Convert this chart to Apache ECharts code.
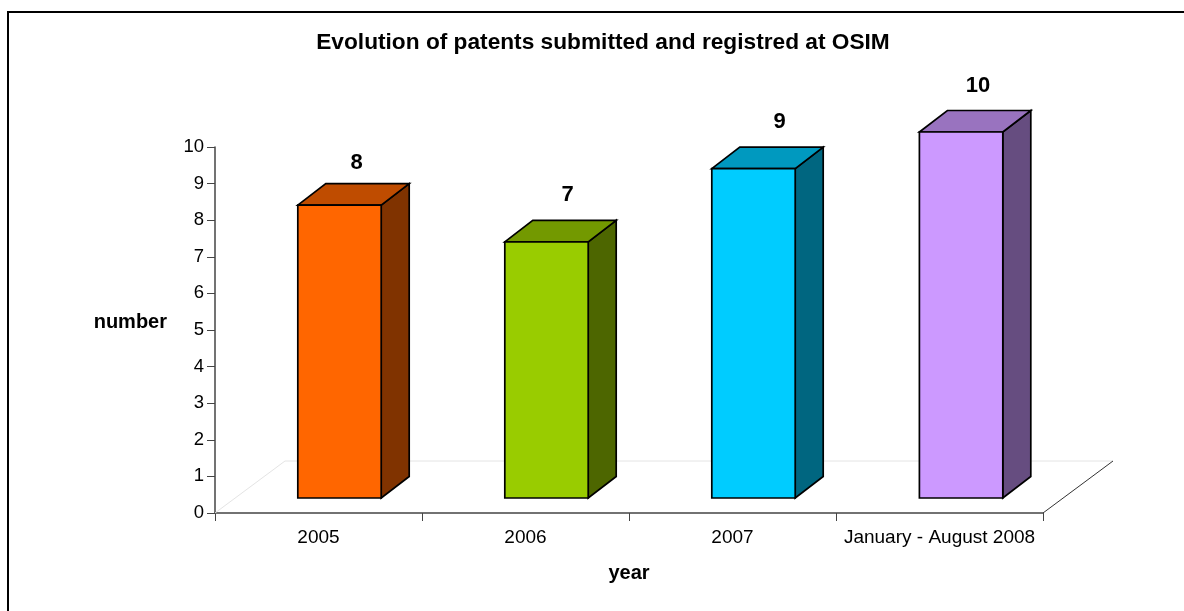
<!DOCTYPE html>
<html><head><meta charset="utf-8">
<style>html,body{margin:0;padding:0;background:#fff}#c{width:1184px;height:611px}</style>
<script src="https://cdn.jsdelivr.net/npm/echarts@6/dist/echarts.min.js"></script>
</head><body><div id="c"></div>
<script>
const categories = ['2005', '2006', '2007', 'January - August 2008'];
const values = [8, 7, 9, 10];
const frontColors = ['#FF6600', '#99CC00', '#00CCFF', '#CC99FF'];
const topColors = ['#BF4C00', '#739900', '#0099BF', '#9973BF'];
const sideColors = ['#803300', '#4D6600', '#006680', '#664D80'];
const yTicks = [0, 1, 2, 3, 4, 5, 6, 7, 8, 9, 10];
const labelNudge = [[17, -42], [21, -47], [26, -47], [17, -46]];
const FONT = '"Liberation Sans", Arial, sans-serif';
const chart = echarts.init(document.getElementById('c'), null, {renderer: 'canvas'});
const off = {x: 21, y: -15}, depth = {x: 28, y: -21.5}, halfW = 41.7;
const ls = {stroke: '#000', lineWidth: 1.7, lineJoin: 'miter'};
function renderBar(params, api) {
  const i = api.value(0), v = api.value(1);
  const base = api.coord([i, 0]), top = api.coord([i, v]);
  const cx = base[0] + off.x + (i === 3 ? 0.6 : 0), l = cx - halfW, r = cx + halfW;
  const b = base[1] + off.y, t = top[1] + off.y;
  const dx = depth.x, dy = depth.y;
  return {type: 'group', children: [
    {type: 'polygon', shape: {points: [[r, t], [r + dx, t + dy], [r + dx, b + dy], [r, b]]},
      style: {fill: sideColors[i], ...ls}},
    {type: 'polygon', shape: {points: [[l, t], [l + dx, t + dy], [r + dx, t + dy], [r, t]]},
      style: {fill: topColors[i], ...ls}},
    {type: 'rect', shape: {x: l, y: t, width: r - l, height: b - t},
      style: {fill: frontColors[i], ...ls}},
    {type: 'text', x: cx + labelNudge[i][0], y: t + labelNudge[i][1], style: {text: String(v), font: 'bold 22px ' + FONT, fill: '#000', align: 'center', verticalAlign: 'middle'}}
  ]};
}
function renderFloor(params, api) {
  const g = params.coordSys;
  const x0 = g.x, x1 = g.x + g.width, y = g.y + g.height;
  const dx = 70, dy = -52;
  return {type: 'group', children: [
    {type: 'polyline', shape: {points: [[x0, y], [x0 + dx, y + dy], [x1 + dx, y + dy]]}, style: {fill: 'none', stroke: '#e4e4e4', lineWidth: 1}},
    {type: 'line', shape: {x1: x1, y1: y, x2: x1 + dx, y2: y + dy}, style: {stroke: '#333', lineWidth: 1}}
  ]};
}
chart.setOption({
  animation: false,
  backgroundColor: '#fff',
  title: {text: 'Evolution of patents submitted and registred at OSIM', left: 598, top: 26, textAlign: 'center',
    textStyle: {fontFamily: FONT, fontWeight: 'bold', fontSize: 22.7, color: '#000'}},
  graphic: [{type: 'rect', shape: {x: 8, y: 12, width: 1300, height: 700}, style: {fill: 'none', stroke: '#000', lineWidth: 2}, silent: true}],
  grid: {left: 215, top: 147, width: 828, height: 366},
  xAxis: {type: 'category', data: categories, name: 'year', nameLocation: 'middle', nameGap: 50,
    nameTextStyle: {fontFamily: FONT, fontWeight: 'bold', fontSize: 20, color: '#000'},
    axisTick: {show: true, alignWithLabel: false, length: 8, lineStyle: {color: '#444'}}, axisLine: {lineStyle: {color: '#444', width: 1.5}},
    axisLabel: {fontFamily: FONT, fontSize: 19, color: '#000', margin: 15, interval: 0}, splitLine: {show: false}},
  yAxis: {type: 'value', min: 0, max: 10, interval: 1, name: 'number', nameLocation: 'middle', nameRotate: 0, nameGap: 48,
    nameTextStyle: {fontFamily: FONT, fontWeight: 'bold', fontSize: 20, color: '#000', verticalAlign: 'bottom', lineHeight: 16},
    axisTick: {show: true, length: 8, lineStyle: {color: '#444'}}, axisLine: {show: true, lineStyle: {color: '#444', width: 1.5}},
    axisLabel: {fontFamily: FONT, fontSize: 18.5, color: '#000', margin: 11, formatter: v => yTicks.includes(v) ? String(v) : ''}, splitLine: {show: false}},
  series: [
    {type: 'custom', coordinateSystem: 'cartesian2d', renderItem: renderFloor, data: [[0, 0]], z: 1, silent: true, clip: false},
    {type: 'custom', coordinateSystem: 'cartesian2d', renderItem: renderBar, data: values.map((v, i) => [i, v]), encode: {x: 0, y: 1}, z: 2, clip: false}
  ]
});
</script></body></html>
